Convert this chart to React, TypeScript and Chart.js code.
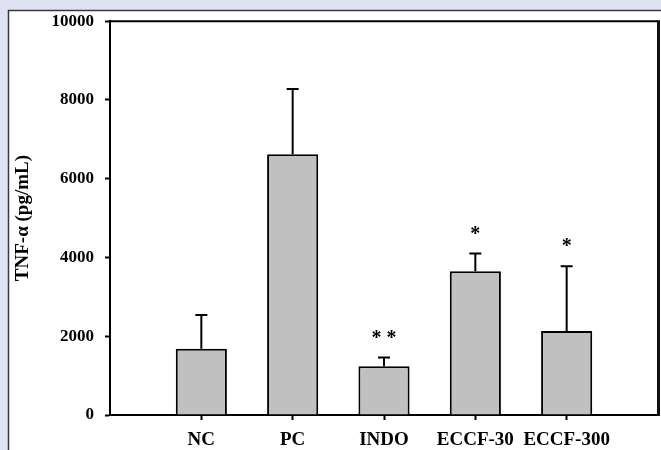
import React, { useEffect, useRef } from 'react';
import { Chart, registerables } from 'chart.js';

Chart.register(...registerables);

const categories = ['NC', 'PC', 'INDO', 'ECCF-30', 'ECCF-300'];
const means = [1680, 6620, 1240, 3650, 2130];
const errors = [860, 1660, 220, 450, 1650];
const significance = ['', '', '* *', '*', '*'];
const yTicks = [0, 2000, 4000, 6000, 8000, 10000];
const yTitle = 'TNF-α (pg/mL)';

const FONT = "'Liberation Serif', 'Times New Roman', serif";

const backgroundPlugin = {
  id: 'panelBackground',
  beforeDraw(chart: any) {
    const { ctx, width, height } = chart;
    ctx.save();
    ctx.fillStyle = '#dfe2f2';
    ctx.fillRect(0, 0, width, height);
    ctx.fillStyle = '#ffffff';
    ctx.fillRect(8, 10, width - 8, height - 10);
    ctx.strokeStyle = '#3a3a3a';
    ctx.lineWidth = 1.5;
    ctx.beginPath();
    ctx.moveTo(8.5, height);
    ctx.lineTo(8.5, 10.5);
    ctx.lineTo(width, 10.5);
    ctx.stroke();
    ctx.restore();
  },
};

const framePlugin = {
  id: 'plotFrame',
  afterDraw(chart: any) {
    const { ctx, chartArea } = chart;
    ctx.save();
    ctx.strokeStyle = '#000';
    ctx.lineWidth = 2;
    ctx.beginPath();
    ctx.moveTo(chartArea.left, chartArea.top);
    ctx.lineTo(chartArea.right, chartArea.top);
    ctx.stroke();
    ctx.strokeStyle = '#111';
    ctx.lineWidth = 3;
    ctx.beginPath();
    ctx.moveTo(chartArea.right + 0.5, chartArea.top - 1);
    ctx.lineTo(chartArea.right + 0.5, chartArea.bottom + 1);
    ctx.stroke();
    ctx.restore();
  },
};

const errorBarPlugin = {
  id: 'errorBars',
  afterDatasetsDraw(chart: any) {
    const { ctx } = chart;
    const meta = chart.getDatasetMeta(0);
    const yScale = chart.scales.y;
    ctx.save();
    ctx.strokeStyle = '#000';
    ctx.lineWidth = 2;
    means.forEach((m, i) => {
      const bar = meta.data[i + 1];
      if (!bar) return;
      const x = bar.x;
      const yTop = yScale.getPixelForValue(m + errors[i]);
      const yBar = yScale.getPixelForValue(m);
      ctx.beginPath();
      ctx.moveTo(x, yBar);
      ctx.lineTo(x, yTop);
      ctx.moveTo(x - 6, yTop);
      ctx.lineTo(x + 6, yTop);
      ctx.stroke();
      const s = significance[i];
      if (s) {
        ctx.fillStyle = '#000';
        ctx.font = `bold 20px ${FONT}`;
        ctx.textAlign = 'center';
        ctx.textBaseline = 'alphabetic';
        ctx.fillText(s, x, yTop - 14);
      }
    });
    ctx.restore();
  },
};

export default function App() {
  const canvasRef = useRef<HTMLCanvasElement | null>(null);

  useEffect(() => {
    const canvas = canvasRef.current;
    if (!canvas) return;
    const labels = ['', ...categories, ''];
    const data = [null, ...means, null];
    const chart = new Chart(canvas, {
      type: 'bar',
      data: {
        labels,
        datasets: [
          {
            data,
            backgroundColor: '#c0c0c0',
            borderColor: '#000',
            borderWidth: 2,
            categoryPercentage: 0.7,
            barPercentage: 0.8,
          },
        ],
      },
      options: {
        responsive: true,
        maintainAspectRatio: false,
        animation: false,
        layout: { padding: { left: 0, top: 20, right: 3, bottom: 0 } },
        plugins: {
          legend: { display: false },
          tooltip: { enabled: false },
        },
        scales: {
          x: {
            type: 'category',
            offset: false,
            grid: {
              display: true,
              offset: false,
              drawOnChartArea: false,
              drawTicks: true,
              tickLength: 5,
              tickWidth: 2,
              tickColor: (c: any) => (c.tick && c.tick.label ? '#000' : 'rgba(0,0,0,0)'),
            },
            border: { display: true, color: '#000', width: 2 },
            ticks: {
              color: '#000',
              font: { family: FONT, size: 19, weight: 'bold' },
              padding: 9,
              maxRotation: 0,
              autoSkip: false,
            },
            afterFit: (s: any) => {
              s.height = 35;
              s.paddingLeft = 0;
              s.paddingRight = 0;
            },
          },
          y: {
            type: 'linear',
            min: 0,
            max: 10000,
            afterBuildTicks: (s: any) => {
              s.ticks = yTicks.map((v) => ({ value: v }));
            },
            grid: {
              display: true,
              drawOnChartArea: false,
              drawTicks: true,
              tickLength: 5,
              tickWidth: 2,
              tickColor: '#000',
            },
            border: { display: true, color: '#000', width: 2 },
            ticks: {
              color: '#000',
              font: { family: FONT, size: 17, weight: 'bold' },
              padding: 11,
              callback: (v: any) => String(v),
            },
            title: {
              display: true,
              text: yTitle,
              color: '#000',
              font: { family: FONT, size: 19, weight: 'bold' },
              padding: { top: 12, bottom: 0 },
            },
            afterFit: (s: any) => {
              s.width = 110;
            },
          },
        },
      },
      plugins: [backgroundPlugin, errorBarPlugin, framePlugin],
    });
    return () => chart.destroy();
  }, []);

  return (
    <div style={{ position: 'fixed', left: 0, top: 0, width: 661, height: 450 }}>
      <canvas ref={canvasRef} />
    </div>
  );
}
